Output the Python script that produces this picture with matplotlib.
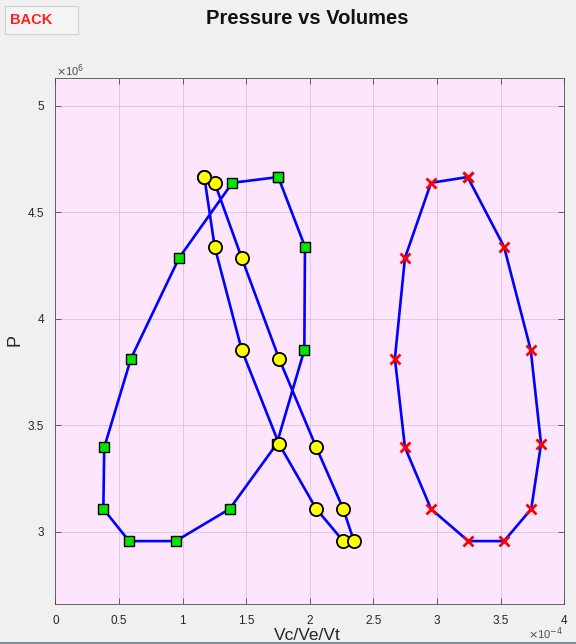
import matplotlib
matplotlib.use("Agg")
import matplotlib.pyplot as plt
from matplotlib.patches import Rectangle

plt.rcParams['font.family'] = ['Liberation Sans', 'DejaVu Sans']

# Pressure values (x1e6), shared by the three loops
P = [4.665, 4.338, 3.853, 3.412, 3.107, 2.956, 2.956, 3.107, 3.396, 3.813, 4.285, 4.638]
# Volumes (x1e-4)
Vc = [1.752, 1.962, 1.957, 1.740, 1.370, 0.946, 0.579, 0.377, 0.384, 0.594, 0.972, 1.391]
Ve = [1.171, 1.252, 1.465, 1.758, 2.051, 2.263, 2.347, 2.263, 2.051, 1.758, 1.465, 1.252]
Vt = [3.241, 3.527, 3.737, 3.818, 3.741, 3.527, 3.246, 2.953, 2.748, 2.669, 2.748, 2.953]

xticks = [0, 0.5, 1, 1.5, 2, 2.5, 3, 3.5, 4]
xticklabels = ['0', '0.5', '1', '1.5', '2', '2.5', '3', '3.5', '4']
yticks = [3, 3.5, 4, 4.5, 5]
yticklabels = ['3', '3.5', '4', '4.5', '5']

def closed(a):
    return list(a) + [a[0]]

W, H = 576, 644
fig = plt.figure(figsize=(W / 100, H / 100), dpi=100, facecolor='#F0F0F0')

left, right, top, bottom = 55.4, 564.2, 78, 603.5
ax = fig.add_axes([left / W, 1 - bottom / H, (right - left) / W, (bottom - top) / H])
ax.set_facecolor('#FDE6FD')

ax.plot(closed(Vc), closed(P), '-', color='#0000FF', lw=1.9,
        marker='s', ms=7.5, mfc='#00E600', mec='black', mew=1.0, zorder=3)
ax.plot(closed(Ve), closed(P), '-', color='#0000FF', lw=1.9,
        marker='o', ms=9.5, mfc='#FFFF00', mec='black', mew=1.3, zorder=4)
ax.plot(closed(Vt), closed(P), '-', color='#0000FF', lw=1.9,
        marker='x', ms=6.5, mec='#FF0000', mew=2.0, zorder=5)

ax.set_xlim(0, 4)
ax.set_ylim(2.663, 5.130)
ax.set_xticks(xticks)
ax.set_xticklabels(xticklabels)
ax.set_yticks(yticks)
ax.set_yticklabels(yticklabels)
ax.grid(True, color='#D2C6D2', lw=0.6)
ax.set_axisbelow(True)
ax.tick_params(direction='in', length=4, width=0.6, colors='#4D4D4D',
               labelsize=8.5, top=True, right=True, labelcolor='#262626', pad=8)
for s in ax.spines.values():
    s.set_color('#4D4D4D')
    s.set_linewidth(0.6)

# y label
fig.text(15 / W, 1 - 340 / H, 'P', fontsize=13, color='#262626',
         ha='center', va='center', rotation=90)

# exponent labels
fig.text(56 / W, 1 - 71 / H, r'$\times$10$^{6}$', fontsize=8, color='#4D4D4D',
         ha='left', va='center')
fig.text(545 / W, 1 - 634 / H, r'$\times$10$^{-4}$', fontsize=8, color='#4D4D4D',
         ha='center', va='center')

# bottom strip
strip = Rectangle((0, 0), 1, 2.5 / H, transform=fig.transFigure,
                  facecolor='#7F8C99', edgecolor='none', zorder=10)
fig.patches.append(strip)

# x label (sits right on the bottom edge)
fig.text(307 / W, 1.5 / H, 'Vc/Ve/Vt', fontsize=12.5, color='#262626',
         ha='center', va='bottom')

# title
fig.text(307 / W, 1 - 18 / H, 'Pressure vs Volumes', fontsize=14.5, fontweight='bold',
         color='#111111', ha='center', va='center')

# BACK button
btn = Rectangle((5 / W, 1 - 34 / H), 73 / W, 28 / H, transform=fig.transFigure,
                facecolor='#F4F4F4', edgecolor='#D0D0D0', lw=0.8)
fig.patches.append(btn)
fig.text(10 / W, 1 - 20 / H, 'BACK', fontsize=10.5, fontweight='bold', color='#FF2020',
         ha='left', va='center')

fig.savefig('out.png', dpi=100, facecolor=fig.get_facecolor())
